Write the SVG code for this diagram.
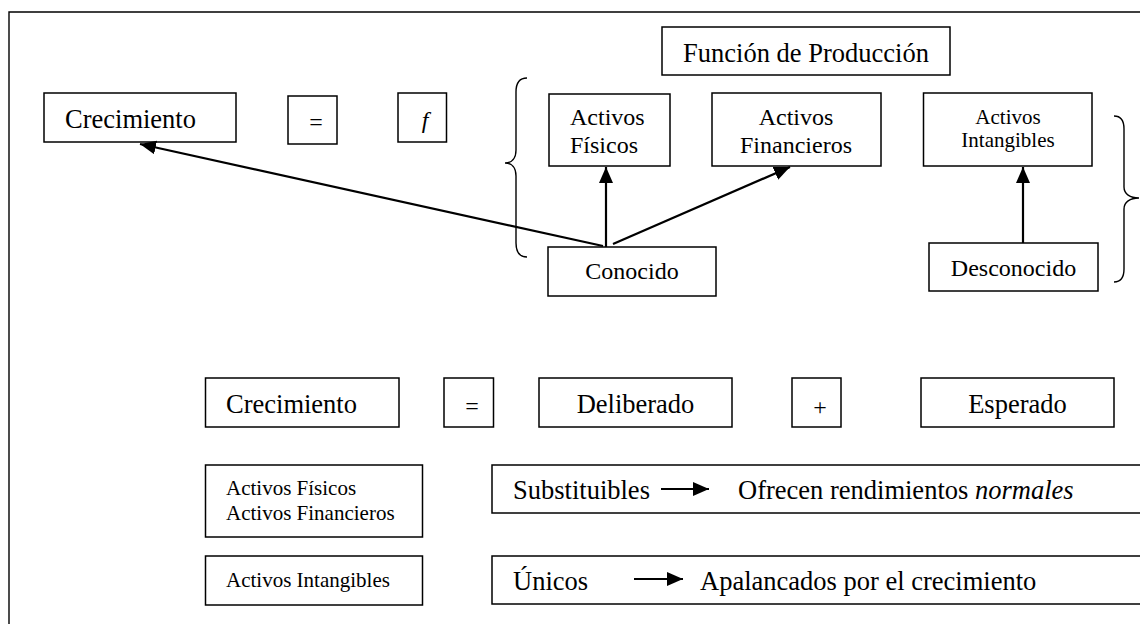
<svg xmlns="http://www.w3.org/2000/svg" width="1140" height="624" viewBox="0 0 1140 624">
<defs>
<marker id="ah" viewBox="0 0 16 14" refX="16" refY="7" markerWidth="16" markerHeight="14" markerUnits="userSpaceOnUse" orient="auto">
<path d="M0,0 L16,7 L0,14 z" fill="#000"/>
</marker>
<style>
.box{fill:#fff;stroke:#000;stroke-width:1.5}
.t{font-family:"Liberation Serif","Times New Roman",serif;fill:#000}
.big{font-size:26.5px}
.mid{font-size:24px}
.sm{font-size:21px}
.c{text-anchor:middle}
.conn{stroke:#000;stroke-width:2.2;fill:none}
.brace{stroke:#000;stroke-width:1.4;fill:none}
</style>
</defs>
<rect width="1140" height="624" fill="#fff"/>
<path d="M9,624 L9,12 L1140,12" fill="none" stroke="#000" stroke-width="1.4"/>

<g id="braces">
<path class="brace" d="M527,78 C519,78 516,83 516,92 L516,150 C516,158 512,163 505,163 C512,163 516,168 516,176 L516,243 C516,252 519,257 527,257"/>
<path class="brace" d="M1114,116 C1121,116 1124,121 1124,129 L1124,187 C1124,194 1130,198 1139,198 C1130,198 1124,202 1124,209 L1124,269 C1124,277 1121,282 1114,282"/>
</g>

<g id="n-crec1">
<rect class="box" x="44" y="93" width="192" height="49"/>
<text class="t big" x="65" y="128">Crecimiento</text>
</g>
<g id="n-eq1">
<rect class="box" x="288" y="96" width="49" height="48"/>
<text class="t mid c" x="316" y="130">=</text>
</g>
<g id="n-f">
<rect class="box" x="398" y="93" width="48.5" height="49"/>
<text class="t mid c" x="425" y="128" font-style="italic">f</text>
</g>
<g id="n-funcion">
<rect class="box" x="662" y="27" width="288" height="48"/>
<text class="t big c" x="806" y="62">Función de Producción</text>
</g>
<g id="n-fisicos">
<rect class="box" x="549" y="94" width="121" height="72"/>
<text class="t mid" x="570" y="125">Activos</text>
<text class="t mid" x="570" y="153">Físicos</text>
</g>
<g id="n-financieros">
<rect class="box" x="712" y="93" width="169" height="73"/>
<text class="t mid c" x="796" y="125">Activos</text>
<text class="t mid c" x="796" y="153">Financieros</text>
</g>
<g id="n-intangibles">
<rect class="box" x="923.5" y="93" width="168.5" height="73"/>
<text class="t sm c" x="1008" y="124">Activos</text>
<text class="t sm c" x="1008" y="147">Intangibles</text>
</g>
<g id="n-conocido">
<rect class="box" x="548" y="247" width="168" height="49"/>
<text class="t mid c" x="632" y="279">Conocido</text>
</g>
<g id="n-desconocido">
<rect class="box" x="929" y="243" width="169" height="48"/>
<text class="t mid c" x="1013.5" y="276">Desconocido</text>
</g>

<g id="n-crec2">
<rect class="box" x="205.5" y="378" width="193.5" height="49"/>
<text class="t big" x="226" y="413">Crecimiento</text>
</g>
<g id="n-eq2">
<rect class="box" x="444" y="378" width="49.5" height="49"/>
<text class="t mid c" x="472" y="414">=</text>
</g>
<g id="n-deliberado">
<rect class="box" x="539" y="378" width="193" height="49"/>
<text class="t big c" x="635.5" y="413">Deliberado</text>
</g>
<g id="n-plus">
<rect class="box" x="792" y="378" width="49" height="49"/>
<text class="t mid c" x="820" y="415">+</text>
</g>
<g id="n-esperado">
<rect class="box" x="921" y="378" width="193" height="49"/>
<text class="t big c" x="1017.5" y="413">Esperado</text>
</g>

<g id="n-fisfin">
<rect class="box" x="205.5" y="465" width="217" height="72"/>
<text class="t sm" x="226" y="495">Activos Físicos</text>
<text class="t sm" x="226" y="520">Activos Financieros</text>
</g>
<g id="n-intang2">
<rect class="box" x="205.5" y="556" width="217" height="49"/>
<text class="t sm" x="226" y="587">Activos Intangibles</text>
</g>
<g id="n-substituibles">
<rect class="box" x="492" y="465" width="660" height="48"/>
<text class="t big" x="513" y="499">Substituibles</text>
<text class="t big" x="738" y="499">Ofrecen rendimientos <tspan font-style="italic">normales</tspan></text>
</g>
<g id="n-unicos">
<rect class="box" x="492" y="556" width="660" height="48"/>
<text class="t big" x="513" y="590">Únicos</text>
<text class="t big" x="700" y="590">Apalancados por el crecimiento</text>
</g>

<g id="connectors">
<line class="conn" x1="603" y1="246" x2="140" y2="144" marker-end="url(#ah)"/>
<line class="conn" x1="606" y1="247" x2="606" y2="167" marker-end="url(#ah)"/>
<line class="conn" x1="613" y1="244" x2="790" y2="167" marker-end="url(#ah)"/>
<line class="conn" x1="1023" y1="243" x2="1023" y2="167" marker-end="url(#ah)"/>
<line class="conn" x1="661" y1="489" x2="709" y2="489" marker-end="url(#ah)"/>
<line class="conn" x1="634" y1="579" x2="683" y2="579" marker-end="url(#ah)"/>
</g>
</svg>
